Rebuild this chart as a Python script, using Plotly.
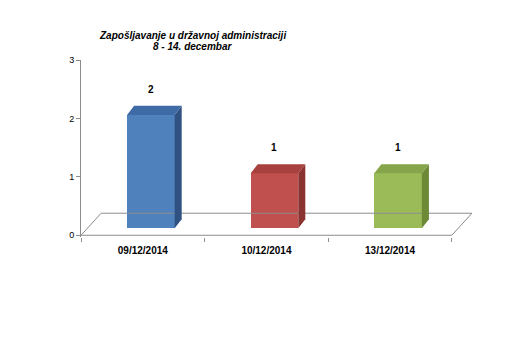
import plotly.graph_objects as go

categories = ["09/12/2014", "10/12/2014", "13/12/2014"]
values = [2, 1, 1]
y_ticks = [0, 1, 2, 3]
title_lines = ["Zapošljavanje u državnoj administraciji", "8 - 14. decembar"]

front_colors = ["#4F81BD", "#C0504D", "#9BBB59"]
side_colors = ["#2F5283", "#8A3331", "#6D8A36"]
top_colors = ["#3E6BA6", "#A8403D", "#86A449"]

# visual 3D offsets (data units)
shift = 0.065
bw = 0.385
dx = 0.057
dy = 0.155
base = 0.12
top_off = 0.06
floor_dx = 0.163
floor_dy = 0.377

fig = go.Figure()

xs = list(range(len(categories)))
axis_gray = "#8C8C8C"

# floor (back, left, right edges) and front axis line
fig.add_trace(go.Scatter(
    x=[-0.5, -0.5 + floor_dx, 2.5 + floor_dx, 2.5, -0.5],
    y=[0, floor_dy, floor_dy, 0, 0],
    mode="lines", line=dict(color=axis_gray, width=1),
    hoverinfo="skip", showlegend=False))

tops = [v + top_off for v in values]
# front faces
fig.add_trace(go.Bar(
    x=[x + shift for x in xs], y=[t - base for t in tops], base=[base] * len(xs),
    width=bw, marker=dict(color=front_colors, line=dict(width=0)),
    showlegend=False, hoverinfo="skip"))

for i, x in enumerate(xs):
    xl = x + shift - bw / 2
    xr = x + shift + bw / 2
    t = tops[i]
    fig.add_trace(go.Scatter(
        x=[xr, xr + dx, xr + dx, xr, xr], y=[base, base + dy, t + dy, t, base],
        fill="toself", fillcolor=side_colors[i], mode="lines",
        line=dict(width=0, color=side_colors[i]), hoverinfo="skip", showlegend=False))
    fig.add_trace(go.Scatter(
        x=[xl, xr, xr + dx, xl + dx, xl], y=[t, t, t + dy, t + dy, t],
        fill="toself", fillcolor=top_colors[i], mode="lines",
        line=dict(width=0, color=top_colors[i]), hoverinfo="skip", showlegend=False))
    fig.add_annotation(x=x + shift, y=values[i], text=f"<b>{values[i]}</b>",
                       showarrow=False, yshift=29,
                       font=dict(size=10, color="#000000", family="Liberation Sans"))

fig.add_annotation(xref="paper", yref="paper", x=0.284, y=1 + 25 / 177, xanchor="center", yanchor="middle",
                   text=f"<b><i>{title_lines[0]}</i></b>",
                   showarrow=False, font=dict(size=10, color="#000", family="Liberation Sans"))
fig.add_annotation(xref="paper", yref="paper", x=0.284, y=1 + 13 / 177, xanchor="center", yanchor="middle",
                   text=f"<b><i>{title_lines[1]}</i></b>",
                   showarrow=False, font=dict(size=10, color="#000", family="Liberation Sans"))

fig.update_layout(
    width=527, height=341, margin=dict(l=81, r=55, t=60, b=104),
    paper_bgcolor="white", plot_bgcolor="white", bargap=0,
    xaxis=dict(range=[-0.5, 2.5 + floor_dx], tickvals=xs, ticktext=[f"<b>{c}</b>" for c in categories],
               ticks="", showgrid=False, zeroline=False, showline=False, ticklabelstandoff=6,
               tickfont=dict(size=10, color="#000", family="Liberation Sans"),
               minor=dict(tickvals=[-0.5, 0.5, 1.5, 2.5], ticks="outside", ticklen=4, tickcolor=axis_gray)),
    yaxis=dict(range=[-0.03, 3], tickvals=y_ticks, ticks="outside", ticklen=4, tickcolor=axis_gray,
               showline=True, linecolor=axis_gray, linewidth=1, showgrid=False, zeroline=False,
               tickfont=dict(size=9, color="#000", family="Liberation Sans")),
)

fig.write_html("out.html")
